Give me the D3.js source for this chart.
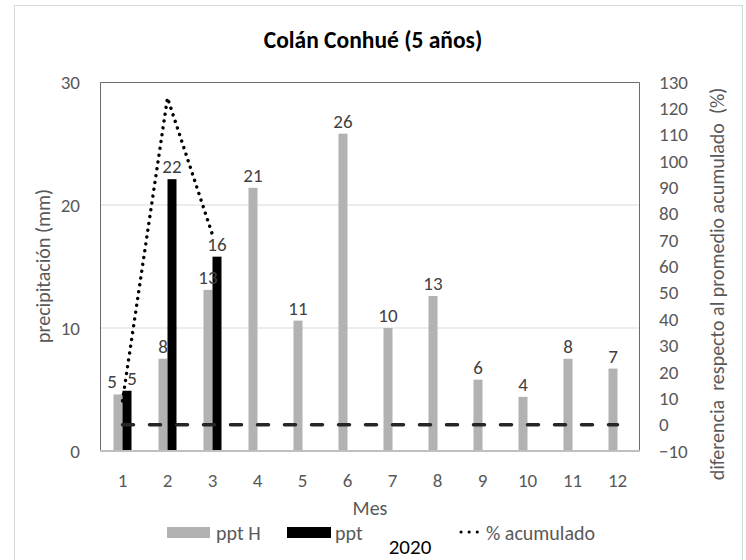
<!DOCTYPE html>
<html>
<head>
<meta charset="utf-8">
<script src="https://cdn.jsdelivr.net/npm/d3@7"></script>
<style>
  html, body { margin: 0; padding: 0; background: #fff; }
  svg text { font-family: Carlito, Lato, "Open Sans", sans-serif; }
</style>
</head>
<body>
<script>
// ---- data ----
const months = [1, 2, 3, 4, 5, 6, 7, 8, 9, 10, 11, 12];
const pptH = [4.6, 7.5, 13.1, 21.4, 10.6, 25.8, 10.0, 12.6, 5.8, 4.4, 7.5, 6.7];
const ppt = [4.9, 22.1, 15.8];
const pctAcum = [9, 124, 72];
const zeroRef = [0, 0, 0, 0, 0, 0, 0, 0, 0, 0, 0, 0];
const leftTicks = [0, 10, 20, 30];
const rightTicks = [-10, 0, 10, 20, 30, 40, 50, 60, 70, 80, 90, 100, 110, 120, 130];
const title = "Colán Conhué (5 años)";
const legendLabels = ["ppt H", "ppt", "% acumulado"];

// ---- layout ----
const W = 746, H = 560;
const plot = { left: 100, right: 640, top: 82, bottom: 451 };
const grayC = "#b2b2b2";
const numFont = 19, txtFont = 20;

const svg = d3.select("body").append("svg").attr("width", W).attr("height", H);

// outer frame
svg.append("rect").attr("x", 14.5).attr("y", 5.5).attr("width", 728).attr("height", 570)
  .attr("fill", "#fff").attr("stroke", "#d9d9d9").attr("stroke-width", 1);

const x = d3.scaleBand().domain(months).range([plot.left, plot.right]).paddingInner(0).paddingOuter(0);
const x1 = d3.scaleBand().domain(["H", "P"]).range([0, x.bandwidth() * 0.4]);
const groupOff = x.bandwidth() * 0.3;
const yL = d3.scaleLinear().domain([0, 30]).range([plot.bottom, plot.top]);
const yR = d3.scaleLinear().domain([-10, 130]).range([plot.bottom, plot.top]);

// gridlines
svg.append("g").selectAll("line").data(leftTicks.filter(d => d > 0 && d < 30)).join("line")
  .attr("x1", plot.left).attr("x2", plot.right)
  .attr("y1", d => yL(d)).attr("y2", d => yL(d))
  .attr("stroke", "#d9d9d9").attr("stroke-width", 1.2);

// plot border (top, left, right)
svg.append("path")
  .attr("d", `M${plot.left + 0.5},${plot.bottom}V${plot.top + 0.5}H${plot.right - 0.5}V${plot.bottom}`)
  .attr("fill", "none").attr("stroke", "#6b6b6b").attr("stroke-width", 1);

// bars ppt H
svg.append("g").selectAll("rect").data(pptH).join("rect")
  .attr("x", (d, i) => x(months[i]) + groupOff + x1("H"))
  .attr("width", x1.bandwidth())
  .attr("y", d => yL(d)).attr("height", d => yL(0) - yL(d))
  .attr("fill", grayC);

// bars ppt
svg.append("g").selectAll("rect").data(ppt).join("rect")
  .attr("x", (d, i) => x(months[i]) + groupOff + x1("P"))
  .attr("width", x1.bandwidth())
  .attr("y", d => yL(d)).attr("height", d => yL(0) - yL(d))
  .attr("fill", "#000");

// bottom axis line
svg.append("line").attr("x1", plot.left).attr("x2", plot.right)
  .attr("y1", plot.bottom).attr("y2", plot.bottom)
  .attr("stroke", "#bfbfbf").attr("stroke-width", 2);

// zero reference dashed line (right axis)
const lineR = d3.line().x((d, i) => x(months[i]) + x.bandwidth() / 2).y(d => yR(d));
svg.append("path").datum(zeroRef).attr("d", lineR)
  .attr("fill", "none").attr("stroke", "#262626").attr("stroke-width", 3.5)
  .attr("stroke-linecap", "round").attr("stroke-dasharray", "11,16");

// % acumulado dotted line
svg.append("path").datum(pctAcum).attr("d", lineR)
  .attr("fill", "none").attr("stroke", "#000").attr("stroke-width", 3.4)
  .attr("stroke-linecap", "round").attr("stroke-dasharray", "0.1,6.8");

// data labels (spread apart when the pair of labels of one month would collide)
const fmt = d3.format(".0f");
function labelX(i, key) {
  const cx = x(months[i]) + groupOff + x1(key) + x1.bandwidth() / 2;
  if (i < ppt.length && Math.abs(yL(pptH[i]) - yL(ppt[i])) < 18) {
    return cx + (key === "H" ? -6 : 5);
  }
  return cx;
}
svg.append("g").selectAll("text").data(pptH).join("text")
  .attr("x", (d, i) => labelX(i, "H"))
  .attr("y", d => yL(d) - 6)
  .attr("text-anchor", "middle").attr("font-size", numFont).attr("fill", "#404040")
  .text(d => fmt(d));
svg.append("g").selectAll("text").data(ppt).join("text")
  .attr("x", (d, i) => labelX(i, "P"))
  .attr("y", d => yL(d) - 6)
  .attr("text-anchor", "middle").attr("font-size", numFont).attr("fill", "#404040")
  .text(d => fmt(d));

// left axis
const axL = svg.append("g").attr("transform", `translate(${plot.left - 20},0)`)
  .call(d3.axisLeft(yL).tickValues(leftTicks).tickSize(0).tickPadding(0));
axL.select(".domain").remove();
axL.selectAll("text").attr("font-size", numFont).attr("fill", "#595959").attr("font-family", null);

// right axis
const axR = svg.append("g").attr("transform", `translate(${plot.right + 19},0)`)
  .call(d3.axisRight(yR).tickValues(rightTicks).tickSize(0).tickPadding(0));
axR.select(".domain").remove();
axR.selectAll("text").attr("font-size", numFont).attr("fill", "#595959").attr("font-family", null);

// bottom axis labels
const axB = svg.append("g").attr("transform", `translate(0,${plot.bottom + 22})`)
  .call(d3.axisBottom(x).tickSize(0).tickPadding(0));
axB.select(".domain").remove();
axB.selectAll("text").attr("font-size", numFont).attr("fill", "#595959").attr("font-family", null);

// titles
svg.append("text").attr("x", 373).attr("y", 48).attr("text-anchor", "middle")
  .attr("font-size", 23.5).attr("font-weight", "bold").attr("fill", "#000").text(title);

svg.append("text").attr("transform", "translate(50,266) rotate(-90)")
  .attr("text-anchor", "middle").attr("font-size", txtFont).attr("fill", "#595959")
  .text("precipitación (mm)");

svg.append("text").attr("transform", "translate(724,284) rotate(-90)")
  .attr("text-anchor", "middle").attr("font-size", txtFont).attr("fill", "#595959")
  .style("white-space", "pre")
  .text("diferencia  respecto al promedio acumulado  (%)");

svg.append("text").attr("x", 370).attr("y", 515).attr("text-anchor", "middle")
  .attr("font-size", txtFont).attr("fill", "#595959").text("Mes");

// legend
const lg = svg.append("g");
lg.append("rect").attr("x", 167).attr("y", 527).attr("width", 43).attr("height", 11).attr("fill", grayC);
lg.append("text").attr("x", 216).attr("y", 540).attr("font-size", txtFont).attr("fill", "#595959").text(legendLabels[0]);
lg.append("rect").attr("x", 287).attr("y", 527).attr("width", 44).attr("height", 11).attr("fill", "#000");
lg.append("text").attr("x", 335).attr("y", 540).attr("font-size", txtFont).attr("fill", "#595959").text(legendLabels[1]);
lg.append("line").attr("x1", 461).attr("x2", 481).attr("y1", 532).attr("y2", 532)
  .attr("stroke", "#000").attr("stroke-width", 3).attr("stroke-linecap", "round").attr("stroke-dasharray", "0.1,8");
lg.append("text").attr("x", 486).attr("y", 540).attr("font-size", txtFont).attr("fill", "#595959").text(legendLabels[2]);

svg.append("text").attr("x", 410).attr("y", 554).attr("text-anchor", "middle")
  .attr("font-size", 21).attr("fill", "#000").text("2020");
</script>
</body>
</html>
